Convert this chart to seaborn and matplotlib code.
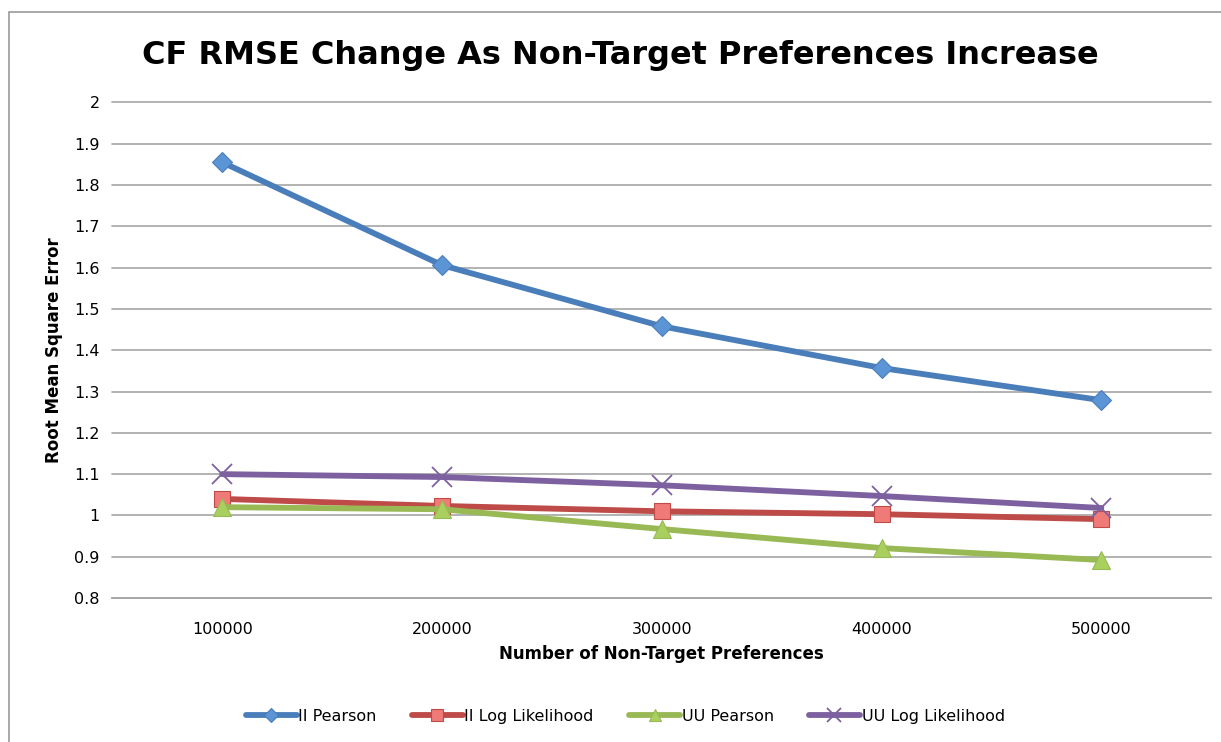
import matplotlib
matplotlib.use("Agg")
import matplotlib.pyplot as plt
import numpy as np
import pandas as pd
import seaborn as sns
from matplotlib.patches import Rectangle

# data
prefs = ["100000", "200000", "300000", "400000", "500000"]
ii_pearson = [1.855, 1.606, 1.458, 1.357, 1.279]
ii_loglik = [1.040, 1.023, 1.010, 1.003, 0.991]
uu_pearson = [1.020, 1.015, 0.967, 0.921, 0.892]
uu_loglik = [1.100, 1.093, 1.073, 1.047, 1.018]

series = ["II Pearson", "II Log Likelihood", "UU Pearson", "UU Log Likelihood"]
line_colors = ["#4A7EBB", "#BE4B48", "#98B954", "#7D60A0"]
face_colors = ["#5B95D6", "#F07A78", "#A9D05E", "#7D60A0"]
marker_shapes = ["D", "s", "^", "x"]
marker_sizes = [10, 12, 13, 15]

df = pd.DataFrame({
    "prefs": prefs * 4,
    "rmse": ii_pearson + ii_loglik + uu_pearson + uu_loglik,
    "series": np.repeat(series, len(prefs)),
})

sns.set_theme(style="white")
plt.rcParams["font.family"] = ["DejaVu Sans"]
plt.rcParams["text.color"] = "black"
plt.rcParams["axes.labelcolor"] = "black"

fig = plt.figure(figsize=(12.21, 7.42), dpi=100)
ax = fig.add_axes([0.092, 0.194, 0.900, 0.668])

# chart area border
fig.patches.append(Rectangle((9 / 1221, -0.01), 1.05, 1 - 12 / 742 + 0.01,
                             transform=fig.transFigure, fill=False,
                             edgecolor="#999999", linewidth=1.2))

handles = []
for name, lc, fc, m, ms in zip(series, line_colors, face_colors, marker_shapes, marker_sizes):
    sub = df[df["series"] == name]
    kw = dict(markerfacecolor=fc, markeredgecolor=lc, markeredgewidth=0.8)
    if m == "x":
        kw = dict(markeredgecolor=lc, markeredgewidth=1.3)
    sns.lineplot(data=sub, x="prefs", y="rmse", color=lc, marker=m, markersize=ms,
                 linewidth=4.2, ax=ax, legend=False, sort=False, **kw)
    h, = ax.plot([], [], color=lc, linewidth=4.2, marker=m, markersize=ms * 0.7, **kw)
    handles.append(h)

ax.set_xlim(-0.5, 4.5)
ax.set_ylim(0.8, 2.0)
yt = np.round(np.arange(0.8, 2.01, 0.1), 1)
ax.set_yticks(yt)
ax.set_yticklabels([f"{v:g}" for v in yt])
ax.yaxis.grid(True, color="#A6A6A6", linewidth=1.2)
for gl in ax.get_ygridlines():
    gl.set_clip_on(False)
ax.set_axisbelow(True)
for s in ["left", "right", "top"]:
    ax.spines[s].set_visible(False)
ax.spines["bottom"].set_color("#A6A6A6")
ax.spines["bottom"].set_linewidth(1.2)
ax.tick_params(axis="both", labelsize=11.5, colors="black", length=0, pad=9)
ax.tick_params(axis="x", pad=17)

ax.set_xlabel("Number of Non-Target Preferences", fontsize=12, fontweight="bold", labelpad=6)
ax.set_ylabel("Root Mean Square Error", fontsize=12, fontweight="bold", labelpad=8)
fig.text(0.508, 0.925, "CF RMSE Change As Non-Target Preferences Increase",
         ha="center", va="center", fontsize=23, fontweight="bold", color="black")

fig.legend(handles, series, loc="center", bbox_to_anchor=(0.512, 0.035), ncol=4,
           frameon=False, fontsize=11.5, handlelength=3.2, handletextpad=0.1,
           columnspacing=2.2)

fig.savefig("out.png", dpi=100)
